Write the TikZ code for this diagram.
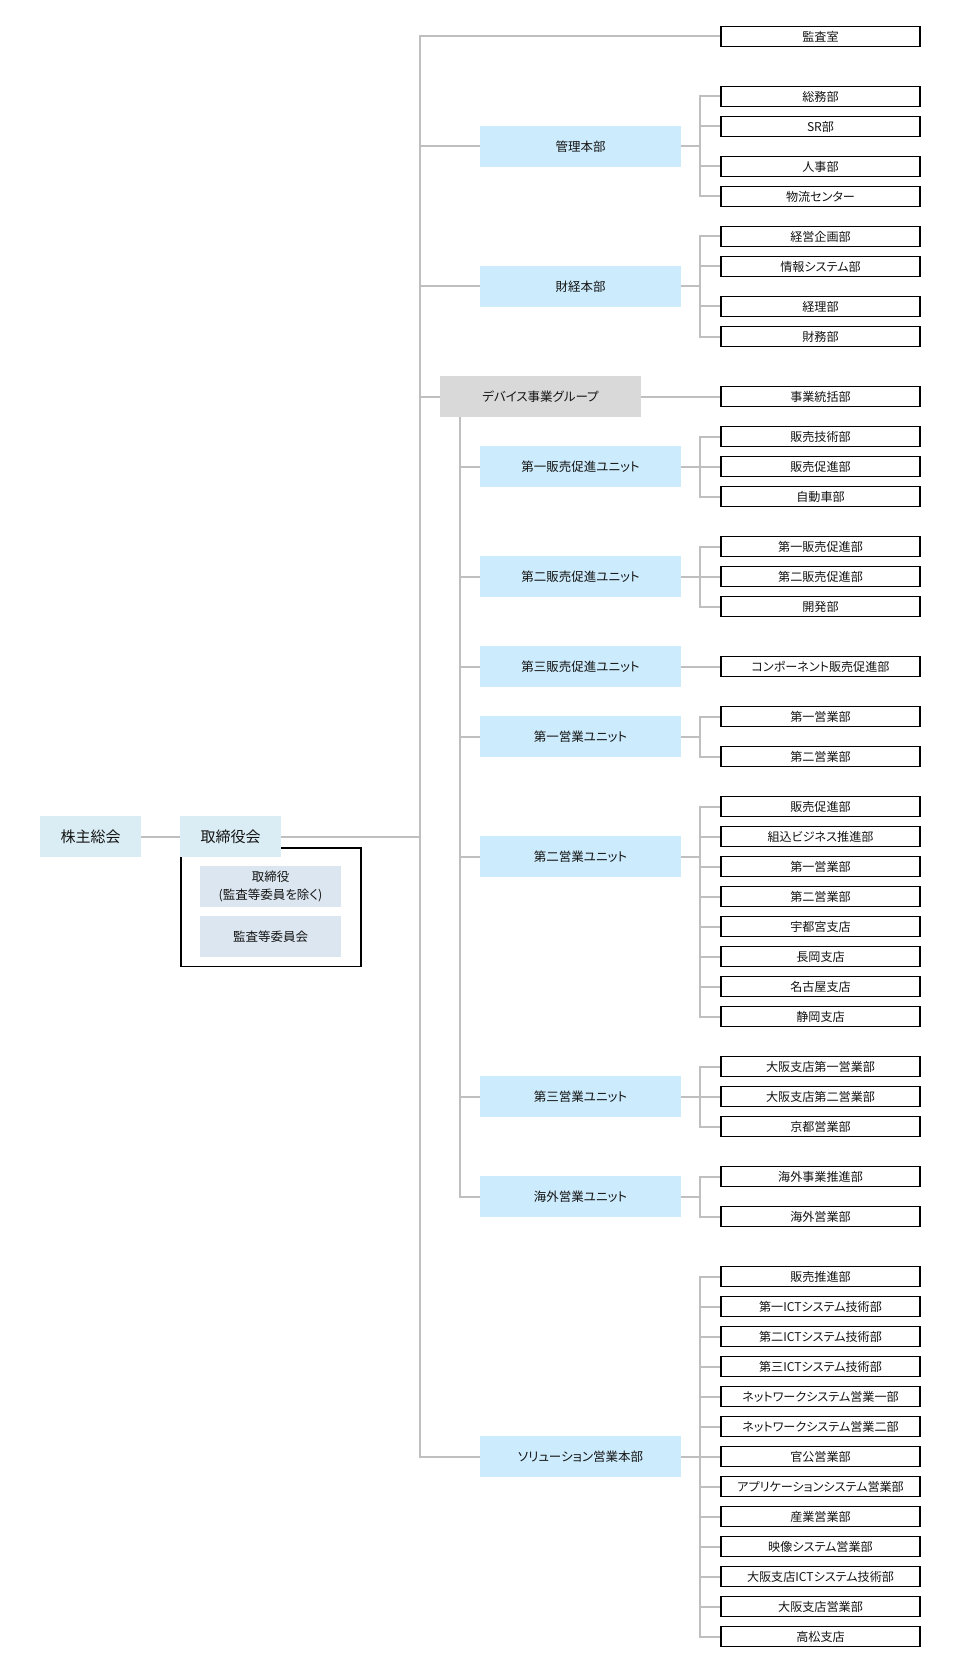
\documentclass[tikz,border=0pt]{standalone}
\usepackage{fontspec}
\setmainfont{Noto Sans CJK JP}[RawFeature={+palt}]
\definecolor{lineg}{RGB}{191,191,191}
\definecolor{unitblue}{RGB}{204,235,252}
\definecolor{govblue}{RGB}{218,237,244}
\definecolor{innerblue}{RGB}{220,230,240}
\definecolor{grpgray}{RGB}{217,217,217}
\definecolor{txt}{RGB}{20,20,20}
\begin{document}
\begin{tikzpicture}[x=1pt,y=-1pt,
  conn/.style={draw=lineg, line width=2pt},
  dept/.style={draw=black, line width=1.4pt, fill=white, minimum width=199pt, minimum height=19.5pt, inner sep=0pt, text=txt, font=\fontsize{12.1}{14}\selectfont},
  unitbox/.style={fill=unitblue, minimum width=201pt, minimum height=41pt, inner sep=0pt, text=txt, font=\fontsize{12.5}{14}\selectfont},
  grpbox/.style={unitbox, fill=grpgray},
  govbox/.style={fill=govblue, minimum width=101pt, minimum height=41pt, inner sep=0pt, text=txt, font=\fontsize{15}{17}\selectfont},
  innerbox/.style={fill=innerblue, minimum width=141pt, minimum height=41pt, inner sep=0pt, align=center, text=txt, font=\fontsize{12.5}{18}\selectfont},
  framebox/.style={draw=black, line width=1.3pt, minimum width=180pt, minimum height=118.5pt, inner sep=0pt, anchor=north west}
]
\useasboundingbox (0,0) rectangle (961,1677);
\coordinate (trunk) at (420,0);
\coordinate (st) at (460,0);
\coordinate (rb) at (700,0);

% left side
\node[framebox] (frame) at (180.3,847.4) {};
\node[govbox] (kabu) at (90.5,836.5) {株主総会};
\node[govbox] (tori) at (230.5,836.5) {取締役会};
\node[innerbox] (in1) at (270.5,886.5) {取締役\\(監査等委員を除く)};
\node[innerbox] (in2) at (270.5,936.5) {監査等委員会};

% middle boxes
\node[unitbox] (kanri) at (580.5,146.5) {管理本部};
\node[unitbox] (zaikei) at (580.5,286.5) {財経本部};
\node[grpbox] (device) at (540.5,396.5) {デバイス事業グループ};
\node[unitbox] (u1) at (580.5,466.5) {第一販売促進ユニット};
\node[unitbox] (u2) at (580.5,576.5) {第二販売促進ユニット};
\node[unitbox] (u3) at (580.5,666.5) {第三販売促進ユニット};
\node[unitbox] (e1) at (580.5,736.5) {第一営業ユニット};
\node[unitbox] (e2) at (580.5,856.5) {第二営業ユニット};
\node[unitbox] (e3) at (580.5,1096.5) {第三営業ユニット};
\node[unitbox] (kaigai) at (580.5,1196.5) {海外営業ユニット};
\node[unitbox] (sol) at (580.5,1456.5) {ソリューション営業本部};

% right boxes
\foreach \n/\y/\t in {
 1/36.5/監査室, 2/96.5/総務部, 3/126.5/SR部, 4/166.5/人事部, 5/196.5/物流センター,
 6/236.5/経営企画部, 7/266.5/情報システム部, 8/306.5/経理部, 9/336.5/財務部,
 10/396.5/事業統括部, 11/436.5/販売技術部, 12/466.5/販売促進部, 13/496.5/自動車部,
 14/546.5/第一販売促進部, 15/576.5/第二販売促進部, 16/606.5/開発部,
 17/666.5/コンポーネント販売促進部, 18/716.5/第一営業部, 19/756.5/第二営業部,
 20/806.5/販売促進部, 21/836.5/組込ビジネス推進部, 22/866.5/第一営業部, 23/896.5/第二営業部,
 24/926.5/宇都宮支店, 25/956.5/長岡支店, 26/986.5/名古屋支店, 27/1016.5/静岡支店,
 28/1066.5/大阪支店第一営業部, 29/1096.5/大阪支店第二営業部, 30/1126.5/京都営業部,
 31/1176.5/海外事業推進部, 32/1216.5/海外営業部,
 33/1276.5/販売推進部, 34/1306.5/第一ICTシステム技術部, 35/1336.5/第二ICTシステム技術部,
 36/1366.5/第三ICTシステム技術部, 37/1396.5/ネットワークシステム営業一部,
 38/1426.5/ネットワークシステム営業二部, 39/1456.5/官公営業部,
 40/1486.5/アプリケーションシステム営業部, 41/1516.5/産業営業部, 42/1546.5/映像システム営業部,
 43/1576.5/大阪支店ICTシステム技術部, 44/1606.5/大阪支店営業部, 45/1636.5/高松支店}
 {\node[dept] (r\n) at (820.5,\y) {\t};}

% trunk
\draw[conn] (r1.west) -- (trunk |- r1.west) -- (trunk |- sol.west) -- (sol.west);
\draw[conn] (kabu.east) -- (tori.west);
\draw[conn] (tori.east) -- (trunk |- tori.east);
\foreach \m in {kanri,zaikei,device}
  \draw[conn] (trunk |- \m.west) -- (\m.west);
\draw[conn] (device.east) -- (r10.west);

% sub trunk
\draw[conn] (st |- device.south) -- (st |- kaigai.west) -- (kaigai.west);
\foreach \m in {u1,u2,u3,e1,e2,e3}
  \draw[conn] (st |- \m.west) -- (\m.west);
\draw[conn] (u3.east) -- (r17.west);

% brackets
\foreach \p/\a/\b in {kanri/2/5, zaikei/6/9, u1/11/13, u2/14/16, e1/18/19, e2/20/27, e3/28/30, kaigai/31/32, sol/33/45} {
  \draw[conn] (\p.east) -- (rb |- \p.east);
  \draw[conn] (r\a.west) -- (rb |- r\a.west) -- (rb |- r\b.west) -- (r\b.west);
}
\foreach \i in {3,4,7,8,12,15,21,22,23,24,25,26,29,34,35,36,37,38,39,40,41,42,43,44}
  \draw[conn] (rb |- r\i.west) -- (r\i.west);
\end{tikzpicture}
\end{document}
